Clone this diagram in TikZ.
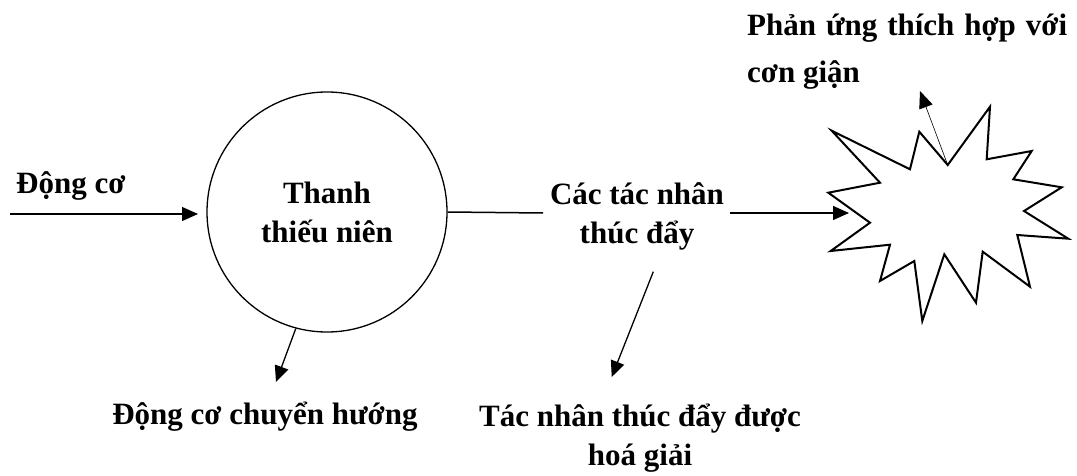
\documentclass[tikz,border=0pt]{standalone}
\usepackage{fontspec}
\setmainfont{Liberation Serif}
\usetikzlibrary{arrows.meta}
\begin{document}
\begin{tikzpicture}[x=1pt,y=-1pt,
  lbl/.style={font=\bfseries\fontsize{31}{39}\selectfont, inner sep=0pt, align=center},
  arr/.style={line width=1.3pt, -{Triangle[length=16pt,width=14pt]}},
  thinarr/.style={line width=0.6pt, -{Triangle[length=17pt,width=14pt]}},
  plain/.style={line width=1.5pt},
  bubble/.style={draw, circle, line width=1.3pt, minimum size=240pt, inner sep=0pt},
  burst/.style={draw, line width=2pt, line join=miter}]
\useasboundingbox (0,0) rectangle (1077,476);

% nodes
\node[bubble, lbl] (teen) at (327,212) {Thanh\\thiếu niên};
\node[lbl, anchor=west] (motive) at (16,186) {Động cơ};
\node[lbl] (agents) at (637,216) {Các tác nhân\\thúc đẩy};
\node[lbl] (diverted) at (265,417) {Động cơ chuyển hướng};
\node[lbl] (resolved) at (640,438) {Tác nhân thúc đẩy được\\hoá giải};
\node[lbl, align=left, anchor=north west, font=\bfseries\fontsize{31}{47}\selectfont] (response) at (747,14) {\makebox[320pt][s]{Phản ứng thích hợp với}\\cơn giận};

% starburst
\draw[burst] (831.7,130.7) -- (910,169.3) -- (919.3,131.7) -- (947.7,165) -- (990,106.7)
  -- (986.7,159.3) -- (1031.7,151) -- (1013.3,179.3) -- (1061.7,187.3) -- (1024,211)
  -- (1068.3,238.7) -- (1017.3,235) -- (1030,286.7) -- (982.7,251.7) -- (976,302.7)
  -- (944.3,254.3) -- (922.3,321) -- (914.3,261) -- (880,281) -- (890,244.7)
  -- (830.7,251) -- (870,222.7) -- (828.3,192.7) -- (880,182.7) -- cycle;

% coordinates
\coordinate (inStart) at (10,214);
\coordinate (teenIn) at (198,214);
\coordinate (lineEnd) at (543,213);
\coordinate (arrStart) at (730,213);
\coordinate (starIn) at (849,213);
\coordinate (starTop) at (947.7,165);
\coordinate (topTip) at (920,91);
\coordinate (divTip) at (276,382);
\coordinate (agDown) at (653.3,271.7);
\coordinate (resTip) at (611.7,377);

% connectors
\draw[arr] (inStart) -- (teenIn);
\draw[plain] (teen.east) -- (lineEnd);
\draw[arr] (arrStart) -- (starIn);
\draw[thinarr] (starTop) -- (topTip);
\draw[arr] (teen.255) -- (divTip);
\draw[arr] (agDown) -- (resTip);
\end{tikzpicture}
\end{document}
